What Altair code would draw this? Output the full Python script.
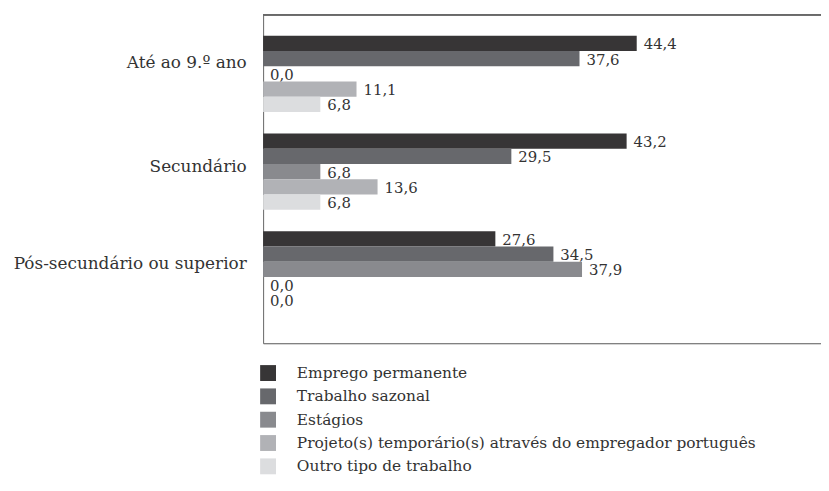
import altair as alt
import pandas as pd

educ = ["Até ao 9.º ano", "Secundário", "Pós-secundário ou superior"]
tipos = [
    "Emprego permanente",
    "Trabalho sazonal",
    "Estágios",
    "Projeto(s) temporário(s) através do empregador português",
    "Outro tipo de trabalho",
]
vals_ate9 = [44.4, 37.6, 0.0, 11.1, 6.8]
vals_sec = [43.2, 29.5, 6.8, 13.6, 6.8]
vals_pos = [27.6, 34.5, 37.9, 0.0, 0.0]
cores = ["#373536", "#67686c", "#898a8e", "#b1b2b6", "#dcdddf"]

rows = []
for e, vs in zip(educ, [vals_ate9, vals_sec, vals_pos]):
    for t, v in zip(tipos, vs):
        rows.append({"educ": e, "tipo": t, "valor": v,
                     "rotulo": f"{v:.1f}".replace(".", ",")})
df = pd.DataFrame(rows)

W = 562
H = 331
FONT = "DejaVu Serif"
TXT = "#333333"

y_enc = alt.Y("educ:N", sort=educ, title=None,
              scale=alt.Scale(paddingInner=0.22, paddingOuter=0.29, align=0.37),
              axis=alt.Axis(domain=True, domainColor="#666666", domainWidth=1,
                            ticks=False, labelPadding=17, labelFontSize=17,
                            labelFont=FONT, labelColor=TXT, labelLimit=400,
                            labelOffset={"condition": {"test": "datum.value === 'Até ao 9.º ano'",
                                                       "value": -11},
                                         "value": -5}))
yoff = alt.YOffset("tipo:N", sort=tipos,
                   scale=alt.Scale(paddingInner=0, paddingOuter=0))
x_enc = alt.X("valor:Q", title=None,
              scale=alt.Scale(domain=[0, 66.3], nice=False, zero=True),
              axis=alt.Axis(domain=True, domainColor="#555555", domainWidth=1,
                            ticks=False, labels=False, grid=False))

bars = alt.Chart(df).mark_bar(size=15.4).encode(
    x=x_enc,
    y=y_enc,
    yOffset=yoff,
    color=alt.Color("tipo:N", sort=tipos,
                    scale=alt.Scale(domain=tipos, range=cores),
                    legend=alt.Legend(title=None, orient="none", legendX=-3,
                                      legendY=353, symbolType="square",
                                      symbolSize=256, symbolStrokeWidth=0,
                                      labelFont=FONT, labelFontSize=15.5,
                                      labelColor=TXT, labelLimit=700,
                                      labelOffset=21, rowPadding=6.5)),
)

labels = alt.Chart(df).mark_text(align="left", baseline="middle", dx=7, dy=1,
                                 font=FONT, fontSize=15, color=TXT).encode(
    x=alt.X("valor:Q"),
    y=alt.Y("educ:N", sort=educ),
    yOffset=alt.YOffset("tipo:N", sort=tipos),
    text="rotulo:N",
)

top = alt.Chart(df).mark_rule(color="#6a6a6a", strokeWidth=1).encode(
    x=alt.value(0), x2=alt.value(W), y=alt.value(0)
)

chart = alt.layer(bars, labels, top).properties(
    width=W, height=H, background="white",
    autosize=alt.AutoSizeParams(type="none"),
    padding={"left": 257, "top": 5, "right": 0, "bottom": 133},
).configure_view(strokeWidth=0, stroke="transparent")

chart.save("out.html", embed_options={"renderer": "svg", "actions": False})
